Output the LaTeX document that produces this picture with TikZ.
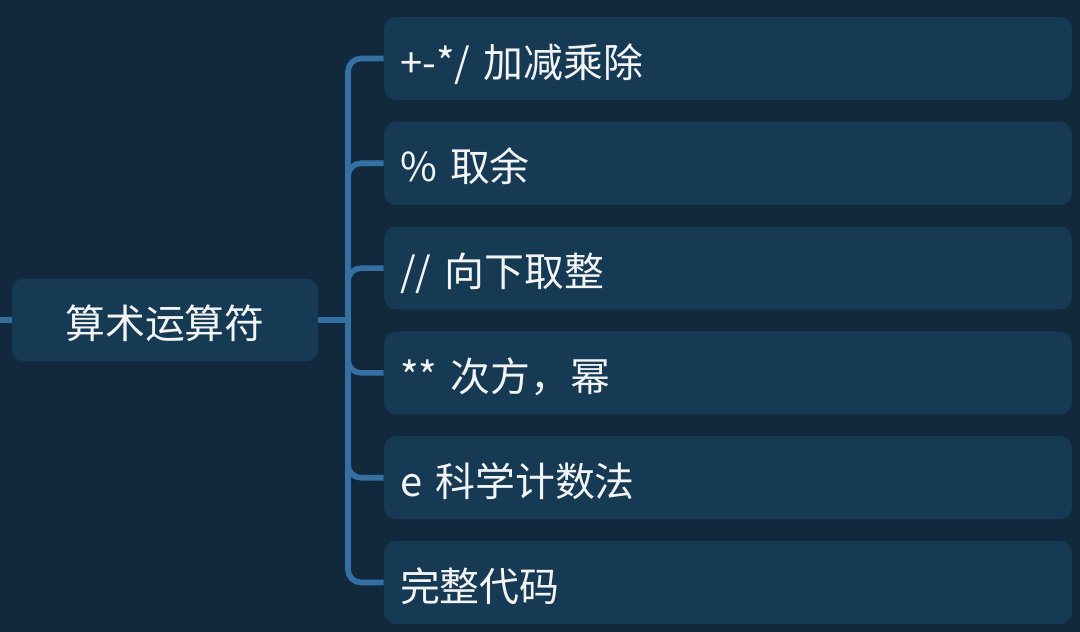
\documentclass[tikz,border=0pt]{standalone}
\usepackage{fontspec}
\setmainfont{Noto Sans CJK SC}
\definecolor{bgnavy}{HTML}{12293D}
\definecolor{boxnavy}{HTML}{163A54}
\definecolor{linkblue}{HTML}{3570A5}
\definecolor{txtwhite}{HTML}{F2F4F6}
\begin{document}
\begin{tikzpicture}[x=.02cm,y=-.02cm,
  every node/.style={font=\fontsize{22.7}{26}\selectfont,text=txtwhite,text height=22pt,text depth=.8pt},
  topic/.style={fill=boxnavy,rounded corners=.24cm,minimum width=6.12cm,minimum height=1.66cm,inner sep=0pt},
  leaf/.style={fill=boxnavy,rounded corners=.24cm,minimum height=1.66cm,inner xsep=.32cm,inner ysep=0pt,text width=13.12cm,align=left},
  link/.style={draw=linkblue,line width=3.2pt}]
  \useasboundingbox (0,0) rectangle (1080,632);
  \fill[bgnavy] (-5,-5) rectangle (1085,637);
  \node[topic] (root) at (165,320) {算术运算符};
  \coordinate (in) at (-5,320);
  \coordinate (spine) at (348,320);
  \foreach \t [count=\i] in {+-*/ 加减乘除,\% 取余,// 向下取整,** 次方，幂,e 科学计数法,完整代码} {
    \node[leaf] (c\i) at (728,{58.5+104.8*(\i-1)}) {\t};
  }
  \draw[link] (in) -- (root.west);
  \draw[link] (root.east) -- (spine);
  \foreach \i in {1,...,6}
    \draw[link,rounded corners=.26cm] (spine) |- (c\i.west);
\end{tikzpicture}
\end{document}
